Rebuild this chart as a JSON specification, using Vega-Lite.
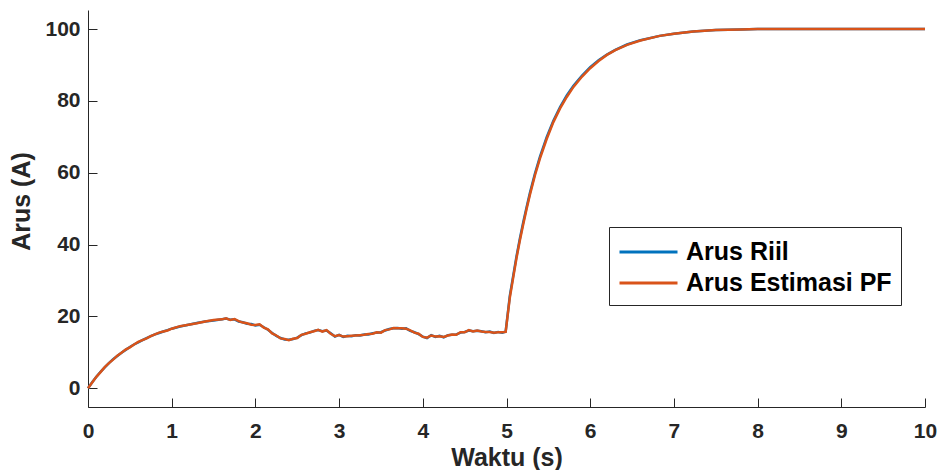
{
  "$schema": "https://vega.github.io/schema/vega-lite/v6.json",
  "width": 837,
  "height": 397,
  "autosize": {"type": "none"},
  "padding": {"left": 88, "top": 10, "right": 14, "bottom": 63},
  "background": "white",
  "config": {
    "view": {"stroke": null},
    "font": "Liberation Sans",
    "axis": {
      "grid": false,
      "domainColor": "#262626",
      "domainWidth": 1,
      "tickColor": "#262626",
      "tickSize": -9,
      "labelColor": "#262626",
      "labelFont": "Liberation Sans",
      "labelFontWeight": "bold",
      "labelFontSize": 21,
      "labelFlush": false,
      "titleColor": "#262626",
      "titleFont": "Liberation Sans",
      "titleFontWeight": "bold",
      "titleFontSize": 25
    }
  },
  "data": {
    "values": [
      {"t": 0, "riil": 0, "pf": 0},
      {"t": 0.05, "riil": 1.7, "pf": 1.6},
      {"t": 0.1, "riil": 3.2, "pf": 3.2},
      {"t": 0.15, "riil": 4.6, "pf": 4.5},
      {"t": 0.2, "riil": 5.8, "pf": 5.9},
      {"t": 0.25, "riil": 7.0, "pf": 7.0},
      {"t": 0.3, "riil": 8.1, "pf": 8.0},
      {"t": 0.35, "riil": 9.0, "pf": 9.1},
      {"t": 0.4, "riil": 9.9, "pf": 9.9},
      {"t": 0.45, "riil": 10.7, "pf": 10.8},
      {"t": 0.5, "riil": 11.5, "pf": 11.4},
      {"t": 0.55, "riil": 12.2, "pf": 12.2},
      {"t": 0.6, "riil": 12.8, "pf": 12.9},
      {"t": 0.65, "riil": 13.4, "pf": 13.4},
      {"t": 0.7, "riil": 14.0, "pf": 13.9},
      {"t": 0.75, "riil": 14.5, "pf": 14.5},
      {"t": 0.8, "riil": 15.0, "pf": 15.0},
      {"t": 0.85, "riil": 15.4, "pf": 15.5},
      {"t": 0.9, "riil": 15.8, "pf": 15.8},
      {"t": 0.95, "riil": 16.2, "pf": 16.1},
      {"t": 1.0, "riil": 16.6, "pf": 16.6},
      {"t": 1.1, "riil": 17.2, "pf": 17.3},
      {"t": 1.2, "riil": 17.7, "pf": 17.7},
      {"t": 1.3, "riil": 18.2, "pf": 18.1},
      {"t": 1.4, "riil": 18.6, "pf": 18.6},
      {"t": 1.5, "riil": 18.9, "pf": 19.0},
      {"t": 1.6, "riil": 19.2, "pf": 19.2},
      {"t": 1.65, "riil": 19.4, "pf": 19.5},
      {"t": 1.7, "riil": 19.1, "pf": 19.0},
      {"t": 1.75, "riil": 19.2, "pf": 19.3},
      {"t": 1.8, "riil": 18.6, "pf": 18.7},
      {"t": 1.85, "riil": 18.4, "pf": 18.3},
      {"t": 1.9, "riil": 18.0, "pf": 18.1},
      {"t": 1.95, "riil": 17.9, "pf": 17.7},
      {"t": 2.0, "riil": 17.5, "pf": 17.6},
      {"t": 2.05, "riil": 17.7, "pf": 17.8},
      {"t": 2.1, "riil": 17.0, "pf": 16.9},
      {"t": 2.15, "riil": 16.3, "pf": 16.4},
      {"t": 2.2, "riil": 15.4, "pf": 15.3},
      {"t": 2.25, "riil": 14.6, "pf": 14.7},
      {"t": 2.3, "riil": 14.0, "pf": 13.9},
      {"t": 2.35, "riil": 13.6, "pf": 13.7},
      {"t": 2.4, "riil": 13.5, "pf": 13.4},
      {"t": 2.45, "riil": 13.7, "pf": 13.8},
      {"t": 2.5, "riil": 14.1, "pf": 14.0},
      {"t": 2.55, "riil": 14.8, "pf": 14.9},
      {"t": 2.6, "riil": 15.3, "pf": 15.2},
      {"t": 2.65, "riil": 15.5, "pf": 15.6},
      {"t": 2.7, "riil": 16.0, "pf": 15.9},
      {"t": 2.75, "riil": 16.2, "pf": 16.3},
      {"t": 2.8, "riil": 15.9, "pf": 15.8},
      {"t": 2.85, "riil": 16.1, "pf": 16.2},
      {"t": 2.9, "riil": 15.3, "pf": 15.2},
      {"t": 2.95, "riil": 14.4, "pf": 14.5},
      {"t": 3.0, "riil": 14.9, "pf": 14.8},
      {"t": 3.05, "riil": 14.3, "pf": 14.4},
      {"t": 3.1, "riil": 14.6, "pf": 14.5},
      {"t": 3.15, "riil": 14.5, "pf": 14.6},
      {"t": 3.2, "riil": 14.8, "pf": 14.7},
      {"t": 3.25, "riil": 14.7, "pf": 14.8},
      {"t": 3.3, "riil": 15.0, "pf": 14.9},
      {"t": 3.35, "riil": 15.0, "pf": 15.1},
      {"t": 3.4, "riil": 15.3, "pf": 15.2},
      {"t": 3.45, "riil": 15.5, "pf": 15.6},
      {"t": 3.5, "riil": 15.6, "pf": 15.5},
      {"t": 3.55, "riil": 16.1, "pf": 16.2},
      {"t": 3.6, "riil": 16.5, "pf": 16.4},
      {"t": 3.65, "riil": 16.7, "pf": 16.8},
      {"t": 3.7, "riil": 16.8, "pf": 16.7},
      {"t": 3.75, "riil": 16.6, "pf": 16.7},
      {"t": 3.8, "riil": 16.7, "pf": 16.6},
      {"t": 3.85, "riil": 16.0, "pf": 16.1},
      {"t": 3.9, "riil": 15.6, "pf": 15.5},
      {"t": 3.95, "riil": 15.1, "pf": 15.2},
      {"t": 4.0, "riil": 14.4, "pf": 14.3},
      {"t": 4.05, "riil": 14.0, "pf": 14.1},
      {"t": 4.1, "riil": 14.8, "pf": 14.7},
      {"t": 4.15, "riil": 14.3, "pf": 14.4},
      {"t": 4.2, "riil": 14.6, "pf": 14.5},
      {"t": 4.25, "riil": 14.2, "pf": 14.3},
      {"t": 4.3, "riil": 14.8, "pf": 14.7},
      {"t": 4.35, "riil": 14.9, "pf": 15.0},
      {"t": 4.4, "riil": 15.0, "pf": 14.9},
      {"t": 4.45, "riil": 15.5, "pf": 15.6},
      {"t": 4.5, "riil": 15.7, "pf": 15.6},
      {"t": 4.55, "riil": 16.1, "pf": 16.2},
      {"t": 4.6, "riil": 15.9, "pf": 15.8},
      {"t": 4.65, "riil": 16.0, "pf": 16.1},
      {"t": 4.7, "riil": 15.9, "pf": 15.8},
      {"t": 4.75, "riil": 15.6, "pf": 15.7},
      {"t": 4.8, "riil": 15.8, "pf": 15.7},
      {"t": 4.85, "riil": 15.4, "pf": 15.5},
      {"t": 4.9, "riil": 15.7, "pf": 15.6},
      {"t": 4.95, "riil": 15.5, "pf": 15.6},
      {"t": 4.99, "riil": 15.8, "pf": 15.7},
      {"t": 5.04, "riil": 25.8, "pf": 25.3},
      {"t": 5.08, "riil": 31.3, "pf": 30.8},
      {"t": 5.12, "riil": 36.8, "pf": 36.3},
      {"t": 5.16, "riil": 41.7, "pf": 41.2},
      {"t": 5.2, "riil": 46.2, "pf": 45.7},
      {"t": 5.24, "riil": 50.4, "pf": 49.9},
      {"t": 5.28, "riil": 54.4, "pf": 53.9},
      {"t": 5.34, "riil": 59.8, "pf": 59.3},
      {"t": 5.4, "riil": 64.5, "pf": 64.0},
      {"t": 5.48, "riil": 69.9, "pf": 69.4},
      {"t": 5.56, "riil": 74.5, "pf": 74.1},
      {"t": 5.64, "riil": 78.3, "pf": 77.9},
      {"t": 5.72, "riil": 81.5, "pf": 81.1},
      {"t": 5.8, "riil": 84.2, "pf": 83.9},
      {"t": 5.9, "riil": 87.0, "pf": 86.7},
      {"t": 6.0, "riil": 89.4, "pf": 89.1},
      {"t": 6.1, "riil": 91.3, "pf": 91.1},
      {"t": 6.2, "riil": 92.9, "pf": 92.8},
      {"t": 6.3, "riil": 94.2, "pf": 94.1},
      {"t": 6.44, "riil": 95.7, "pf": 95.6},
      {"t": 6.6, "riil": 96.9, "pf": 96.8},
      {"t": 6.83, "riil": 98.1, "pf": 98.1},
      {"t": 7.0, "riil": 98.7, "pf": 98.7},
      {"t": 7.23, "riil": 99.3, "pf": 99.3},
      {"t": 7.5, "riil": 99.7, "pf": 99.7},
      {"t": 7.8, "riil": 99.9, "pf": 99.9},
      {"t": 8.0, "riil": 100, "pf": 100},
      {"t": 9.0, "riil": 100, "pf": 100},
      {"t": 10.0, "riil": 100, "pf": 100}
    ]
  },
  "encoding": {
    "x": {
      "field": "t",
      "type": "quantitative",
      "scale": {"domain": [0, 10], "nice": false},
      "axis": {"title": "Waktu (s)", "values": [0,1,2,3,4,5,6,7,8,9,10], "labelPadding": 22, "titlePadding": 4}
    }
  },
  "layer": [
    {
      "mark": {"type": "line", "strokeWidth": 2.5},
      "encoding": {
        "y": {
          "field": "riil",
          "type": "quantitative",
          "scale": {"domain": [-5.2, 105.3], "nice": false, "zero": false},
          "axis": {"title": "Arus (A)", "values": [0, 20, 40, 60, 80, 100], "labelPadding": 17, "titlePadding": 10, "titleY": 191}
        },
        "color": {
          "datum": "Arus Riil",
          "type": "nominal",
          "scale": {"domain": ["Arus Riil", "Arus Estimasi PF"], "range": ["#0072BD", "#D95319"]},
          "legend": {
            "title": null,
            "orient": "none",
            "legendX": 521,
            "legendY": 217,
            "direction": "vertical",
            "fillColor": "white",
            "strokeColor": "#262626",
            "padding": 9,
            "symbolType": "M-1,0H3",
            "symbolSize": 841,
            "symbolStrokeWidth": 3,
            "labelFont": "Liberation Sans",
            "labelFontSize": 25,
            "labelFontWeight": "bold",
            "labelColor": "#000000",
            "labelOffset": 36,
            "rowPadding": 2,
            "labelLimit": 400
          }
        }
      }
    },
    {
      "mark": {"type": "line", "strokeWidth": 2.5},
      "encoding": {
        "y": {"field": "pf", "type": "quantitative"},
        "color": {"datum": "Arus Estimasi PF", "type": "nominal"}
      }
    }
  ]
}
